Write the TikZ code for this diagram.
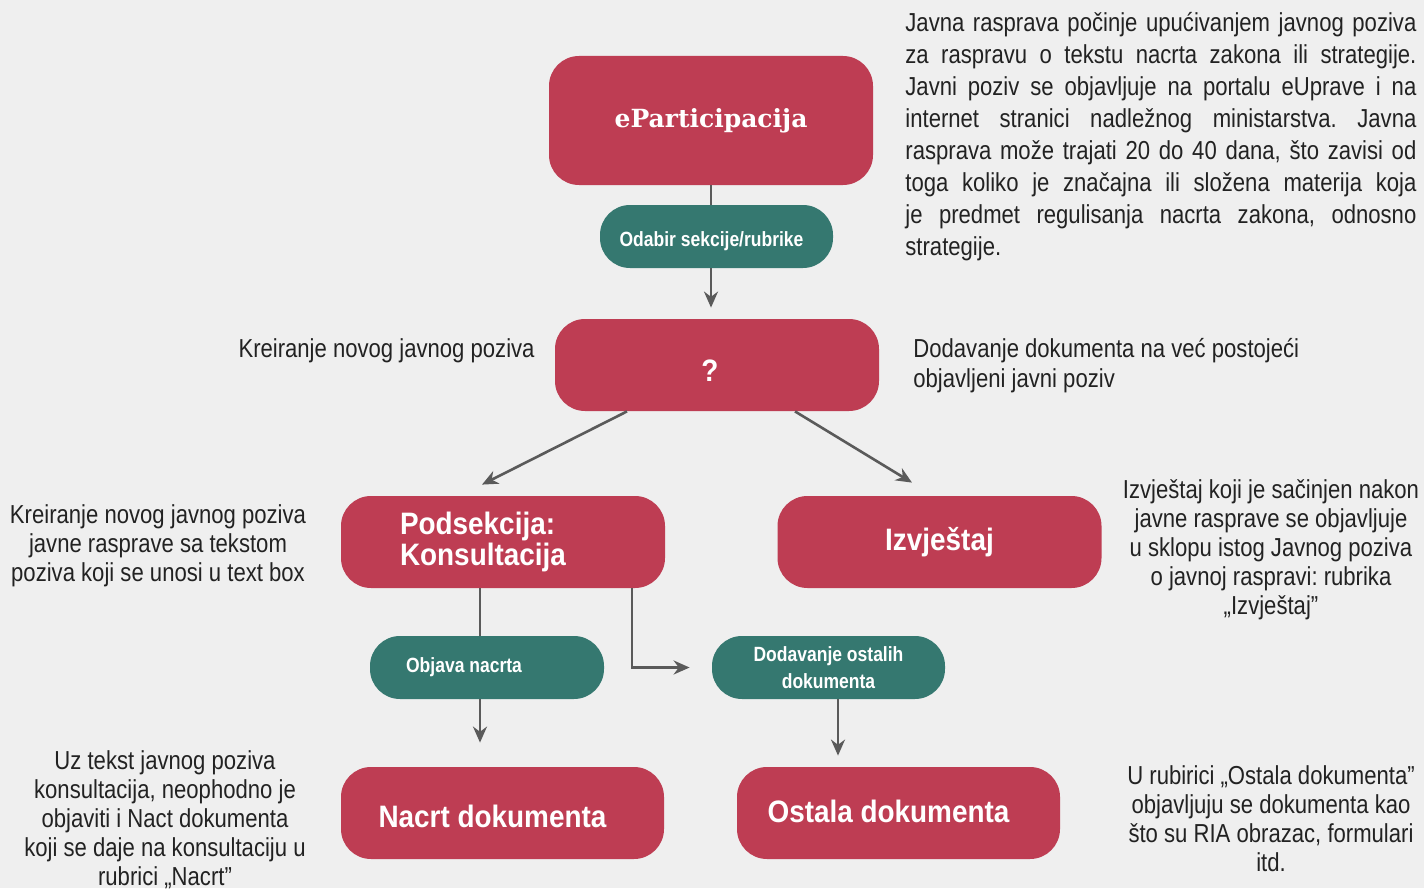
\documentclass[tikz,border=0pt]{standalone}
\usepackage{fontspec}
\setmainfont{Liberation Sans}[FakeStretch=0.85]
\newfontfamily\boxfont{Liberation Sans}[FakeStretch=0.9]
\newfontfamily\slabfont{DejaVu Serif}
\usetikzlibrary{arrows.meta}
\definecolor{bgcol}{HTML}{EFEFEF}
\definecolor{boxred}{HTML}{BE3D53}
\definecolor{boxteal}{HTML}{357870}
\definecolor{linegray}{HTML}{5A5A5A}
\definecolor{txtcol}{HTML}{222222}
\tikzset{
  redbox/.style={fill=boxred, rounded corners=15pt, minimum width=162pt, minimum height=46pt,
    text=white, font=\boxfont\bfseries\fontsize{15.5}{15.5}\selectfont, inner sep=0pt, align=center},
  tealbox/.style={fill=boxteal, rounded corners=15pt, minimum width=117pt, minimum height=31.5pt,
    text=white, font=\bfseries\fontsize{10.3}{13.5}\selectfont, inner sep=0pt, align=center},
  conn/.style={draw=linegray, line width=1.3pt},
  arr/.style={conn, -{Stealth[length=8pt,width=7pt]}},
  note/.style={text=txtcol, font=\fontsize{13}{14.5}\selectfont, inner sep=0pt},
}
\frenchspacing
\begin{document}
\begin{tikzpicture}[x=0.5pt, y=-0.5pt]
  \fill[bgcol] (0,0) rectangle (1424,888);
  % boxes
  \node[redbox, minimum height=64.5pt, font=\slabfont\bfseries\fontsize{12.5}{14}\selectfont] (epart) at (711,120.5) {eParticipacija};
  \node[tealbox, minimum width=116.5pt] (odabir) at (716.5,236.5) {\raisebox{-1.5pt}[\height][0pt]{Odabir sekcije/rubrike}\hspace*{5pt}};
  \node[redbox] (q) at (717,365) {\raisebox{-3pt}[\height][0pt]{?}\hspace*{7pt}};
  \node[redbox, align=left, text width=103pt, inner xsep=29.5pt] (pod) at (503,542) {Podsekcija:\\Konsultacija};
  \node[redbox] (izv) at (939.5,542) {Izvještaj};
  \node[tealbox] (objava) at (487,667.5) {Objava nacrta\hspace*{23pt}};
  \node[tealbox, minimum width=116.5pt] (dodav) at (828.5,667.5) {Dodavanje ostalih\\dokumenta};
  \node[redbox, minimum width=161.5pt] (nacrt) at (502.5,813) {\raisebox{-1.5pt}[\height][0pt]{Nacrt dokumenta}\hspace*{10pt}};
  \node[redbox, minimum width=161.5pt] (ostala) at (898.5,813) {\raisebox{2pt}{Ostala dokumenta}\hspace*{10pt}};
  % connectors
  \draw[conn] (epart.south) -- (epart.south |- odabir.north);
  \draw[arr, shorten >=5.5pt] (odabir.south -| epart.south) -- (q.north -| epart.south);
  \draw[arr] ([xshift=-45pt]q.south) -- ([xshift=-10.5pt, yshift=5.5pt]pod.north);
  \draw[arr] ([xshift=39pt]q.south) -- ([xshift=-13.75pt, yshift=6.5pt]izv.north);
  \coordinate (p1) at ([xshift=-11.5pt]pod.south);
  \draw[conn] (p1) -- (p1 |- objava.north);
  \draw[arr, shorten >=11pt] ([xshift=64.5pt]pod.south) |- (dodav.west);
  \draw[arr, shorten >=12pt] (p1 |- objava.south) -- (p1 |- nacrt.north);
  \coordinate (p2) at ([xshift=4.75pt]dodav.south);
  \draw[arr, shorten >=5.5pt] (p2) -- (p2 |- ostala.north);
  % notes
  \node[note, anchor=north west, text width=255.5pt, align=justify, font=\fontsize{13}{16}\selectfont] (opis) at (905,12)
    {Javna rasprava počinje upućivanjem javnog poziva\linebreak
     za raspravu o tekstu nacrta zakona ili strategije.\linebreak
     Javni poziv se objavljuje na portalu eUprave i na\linebreak
     internet stranici nadležnog ministarstva. Javna\linebreak
     rasprava može trajati 20 do 40 dana, što zavisi od\linebreak
     toga koliko je značajna ili složena materija koja\linebreak
     je predmet regulisanja nacrta zakona, odnosno\linebreak
     strategije.};
  \node[note, anchor=east] (novi) at (535,351) {Kreiranje novog javnog poziva};
  \node[note, anchor=west, align=left, font=\fontsize{13}{15}\selectfont] (postojeci) at (913,366)
    {Dodavanje dokumenta na već postojeći\\objavljeni javni poziv};
  \node[note, align=center] (tekstbox) at (158,546)
    {Kreiranje novog javnog poziva\\javne rasprave sa tekstom\\poziva koji se unosi u text box};
  \node[note, align=center] (izvopis) at (1271,550)
    {Izvještaj koji je sačinjen nakon\\javne rasprave se objavljuje\\u sklopu istog Javnog poziva\\o javnoj raspravi: rubrika\\„Izvještaj”};
  \node[note, align=center] (nacrtopis) at (165,820)
    {Uz tekst javnog poziva\\konsultacija, neophodno je\\objaviti i Nact dokumenta\\koji se daje na konsultaciju u\\rubrici „Nacrt”};
  \node[note, align=center] (ostalaopis) at (1271,819)
    {U rubirici „Ostala dokumenta”\\objavljuju se dokumenta kao\\što su RIA obrazac, formulari\\itd.};
\end{tikzpicture}
\end{document}
